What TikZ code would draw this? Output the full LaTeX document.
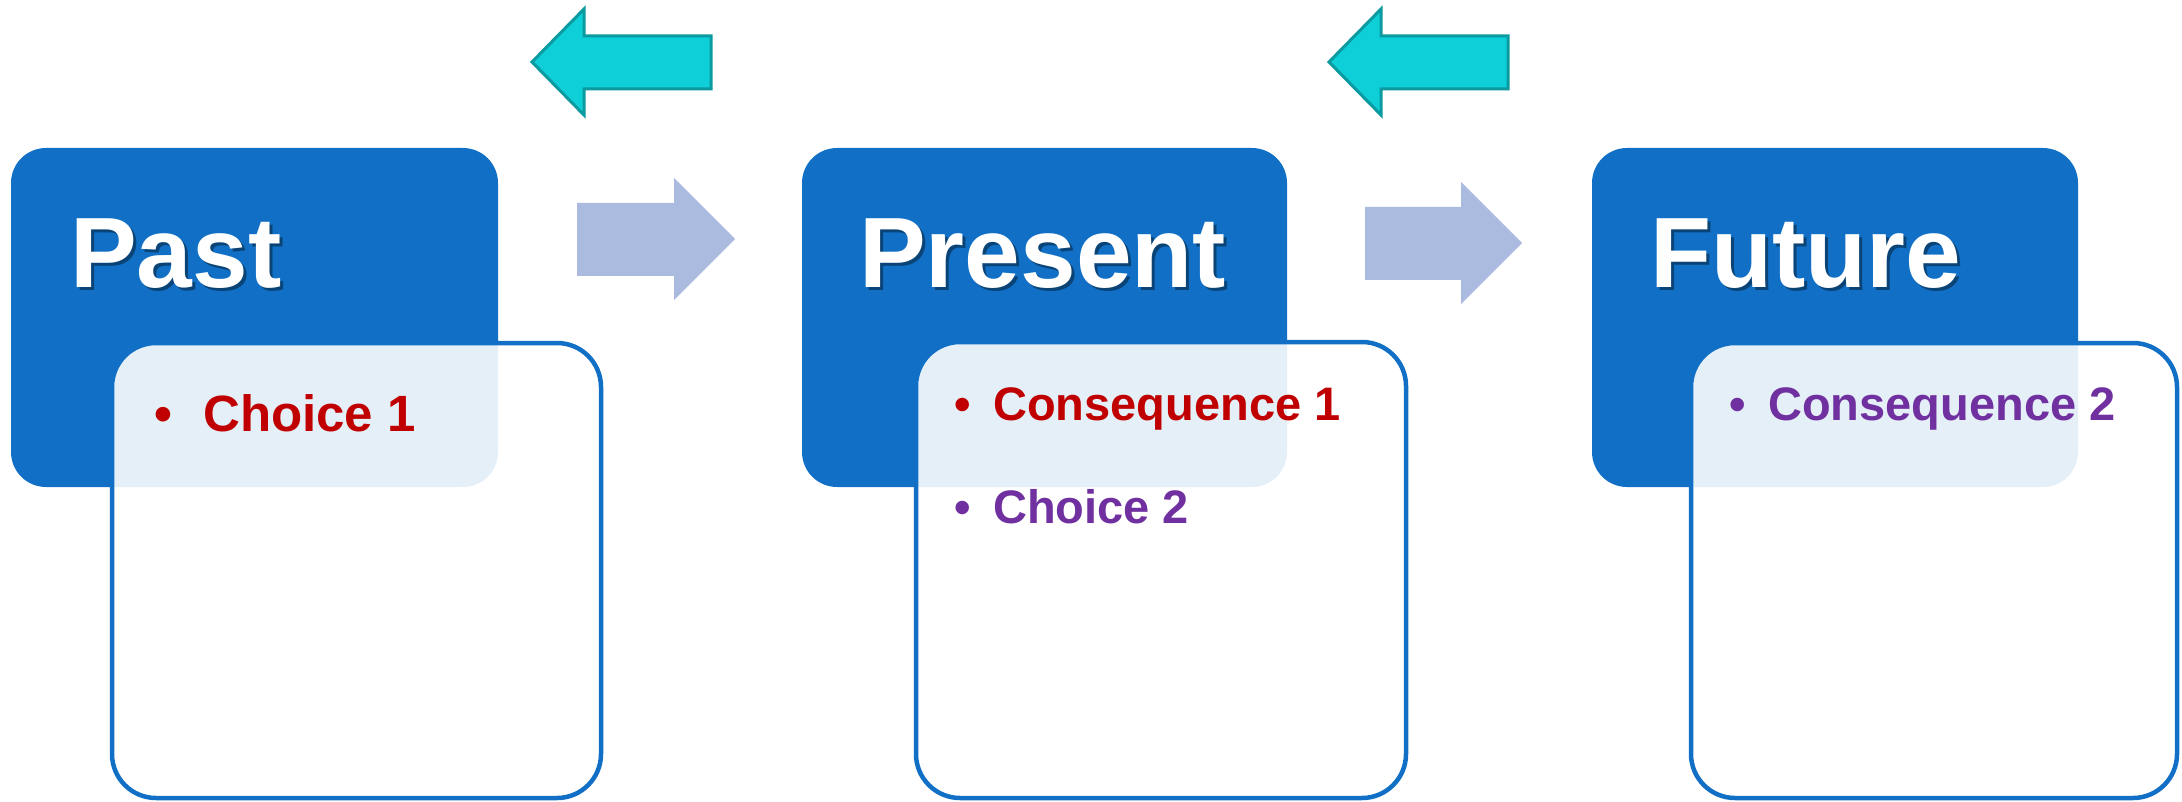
\documentclass[tikz,border=0pt]{standalone}
\usepackage{fontspec}
\setmainfont{Liberation Sans}
\definecolor{boxblue}{HTML}{1170C5}
\definecolor{arrowblue}{HTML}{ABBBDF}
\definecolor{cyanfill}{HTML}{0ECFD8}
\definecolor{cyanline}{HTML}{0A9AA0}
\definecolor{darkred}{HTML}{C00000}
\definecolor{purp}{HTML}{7030A0}
\tikzset{
  bluebox/.style={fill=boxblue, draw=none, rounded corners=35pt, anchor=north west, inner sep=0pt, outer sep=0pt, minimum height=339pt},
  notebox/.style={fill=white, fill opacity=0.89, draw=boxblue, draw opacity=1, line width=4.5pt, rounded corners=44pt, anchor=north west, inner sep=0pt, outer sep=0pt},
  titletext/.style={anchor=base west, inner sep=0pt, text=white, font=\bfseries\fontsize{100}{100}\selectfont},
  titleshadow/.style={anchor=base west, inner sep=0pt, text=black, text opacity=0.4, font=\bfseries\fontsize{100}{100}\selectfont},
  bullettext/.style={anchor=base west, inner sep=0pt, font=\bfseries\fontsize{47}{47}\selectfont},
  bulletdot/.style={anchor=base, inner sep=0pt, font=\bfseries\fontsize{47}{47}\selectfont},
  fwdarrow/.style={fill=arrowblue, draw=none},
  backarrow/.style={fill=cyanfill, draw=cyanline, line width=3pt, line join=miter},
}
\begin{document}
\begin{tikzpicture}[x=1pt,y=-1pt]
\useasboundingbox (0,0) rectangle (2182,802);
% Past
\node[bluebox, minimum width=487pt] (pastbox) at (11,148) {};
\node[notebox, minimum width=489pt, minimum height=455pt] (pastnote) at (112,343) {};
\node[titleshadow] (pastshadow) at (73,291) {Past};
\node[titletext] (pasttitle) at (70,288) {Past};
\node[bulletdot, text=darkred, font=\bfseries\fontsize{51}{51}\selectfont] (pastdot) at (163,431) {•};
\node[bullettext, text=darkred, font=\bfseries\fontsize{51}{51}\selectfont] (pastitem) at (203,431) {Choice 1};
% Present
\node[bluebox, minimum width=485pt] (presbox) at (802,148) {};
\node[notebox, minimum width=490pt, minimum height=456pt] (presnote) at (916,342) {};
\node[titleshadow] (presshadow) at (862,291) {Present};
\node[titletext] (prestitle) at (859,288) {Present};
\node[bulletdot, text=darkred] (presdota) at (963,420) {•};
\node[bullettext, text=darkred] (presitema) at (993,420) {Consequence 1};
\node[bulletdot, text=purp] (presdotb) at (963,523) {•};
\node[bullettext, text=purp] (presitemb) at (993,523) {Choice 2};
% Future
\node[bluebox, minimum width=486pt] (futbox) at (1592,148) {};
\node[notebox, minimum width=486pt, minimum height=455pt] (futnote) at (1691,343) {};
\node[titleshadow] (futshadow) at (1653,291) {Future};
\node[titletext] (futtitle) at (1650,288) {Future};
\node[bulletdot, text=purp] (futdot) at (1738,420) {•};
\node[bullettext, text=purp] (futitem) at (1768,420) {Consequence 2};
% forward arrows
\fill[fwdarrow] (577,203) -- (674,203) -- (674,178) -- (735,239) -- (674,300) -- (674,276) -- (577,276) -- cycle;
\fill[fwdarrow] (1365,207) -- (1461,207) -- (1461,182) -- (1522,243) -- (1461,304) -- (1461,280) -- (1365,280) -- cycle;
% back arrows
\draw[backarrow] (532,62) -- (584,9) -- (584,36) -- (711,36) -- (711,89) -- (584,89) -- (584,115) -- cycle;
\draw[backarrow] (1329,62) -- (1381,9) -- (1381,36) -- (1508,36) -- (1508,89) -- (1381,89) -- (1381,115) -- cycle;
\end{tikzpicture}
\end{document}
